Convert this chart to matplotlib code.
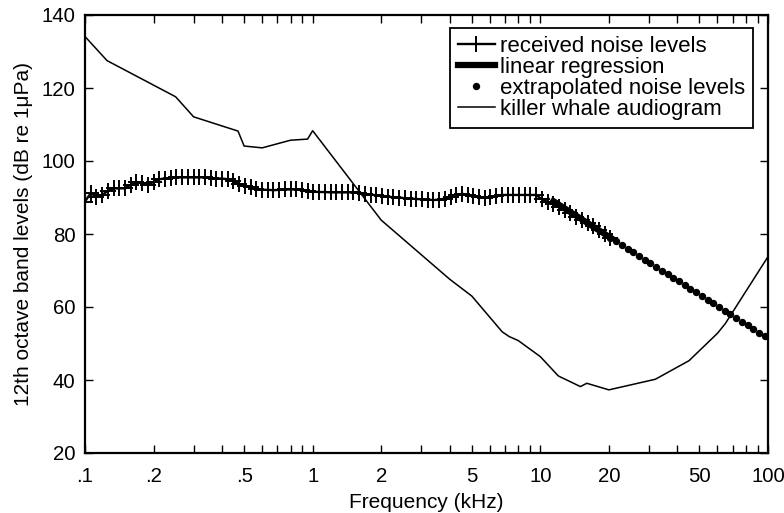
import numpy as np
import matplotlib
matplotlib.use("Agg")
import matplotlib.pyplot as plt
from matplotlib.ticker import FixedLocator, NullFormatter, NullLocator

plt.rcParams['font.family'] = ['Liberation Sans', 'DejaVu Sans']

# 1/12-octave band centres (kHz), starting at 0.1 kHz
BAND0 = 0.1
# received noise levels (dB) for bands 0..92
noise_levels = [
    88.9, 91.2, 90.2, 90.7, 91.8, 92.5, 92.5, 92.5, 93.5, 94.2,
    93.9, 93.4, 94.3, 95.0, 95.2, 95.4, 95.5, 95.5, 95.5, 95.5,
    95.5, 95.5, 95.4, 95.2, 95.2, 95.0, 94.5, 93.6, 93.2, 92.8,
    92.3, 92.1, 92.1, 92.0, 92.1, 92.2, 92.2, 92.2, 92.0, 91.7,
    91.6, 91.5, 91.5, 91.4, 91.4, 91.4, 91.4, 91.4, 91.3, 91.0,
    90.8, 90.6, 90.4, 90.2, 90.1, 90.0, 89.8, 89.7, 89.6, 89.5,
    89.4, 89.3, 89.4, 89.7, 90.2, 90.6, 91.0, 90.8, 90.3, 90.1,
    90.0, 90.1, 90.5, 90.7, 90.7, 90.7, 90.7, 90.7, 90.7, 90.7,
    89.5, 88.8, 88.2, 87.4, 86.5, 85.7, 84.6, 83.7, 82.9, 82.1,
    81.1, 80.0, 79.0,
]
noise_bands = list(range(0, 93))

# linear regression (band index endpoints, dB)
regr_bands = [82, 92]
regr_levels = [89.0, 79.0]

# extrapolated noise levels (bands 92..119)
extrap_bands = list(range(92, 120))
extrap_levels = [79, 78, 77, 76, 75, 74, 73, 72, 71, 70,
                 69, 68, 67, 66, 65, 64, 63, 62, 61, 60,
                 59, 58, 57, 56, 55, 54, 53, 52]

# killer whale audiogram
aud_freq = [0.1, 0.125, 0.25, 0.3, 0.47, 0.5, 0.6, 0.8, 0.95, 1.0,
            2.0, 4.0, 5.0, 6.8, 7.3, 8.0, 10.0, 12.0, 15.0, 16.0,
            20.0, 32.0, 45.0, 60.0, 65.0, 100.0]
aud_level = [134.1, 127.5, 117.6, 112.1, 108.2, 104.1, 103.6, 105.7, 106.0, 108.3,
             83.8, 67.6, 63.0, 53.2, 51.9, 50.8, 46.4, 41.1, 38.2, 39.1,
             37.3, 40.2, 45.3, 52.8, 55.5, 73.8]

xticks = [0.1, 0.2, 0.5, 1, 2, 5, 10, 20, 50, 100]
xticklabels = ['.1', '.2', '.5', '1', '2', '5', '10', '20', '50', '100']
yticks = [20, 40, 60, 80, 100, 120, 140]


def band_freq(bands):
    return [BAND0 * 2 ** (b / 12) for b in bands]


fig = plt.figure(figsize=(7.84, 5.13), dpi=100)
ax = fig.add_axes([85 / 784, 1 - 453 / 513, (768 - 85) / 784, (453 - 15) / 513])

ax.plot(band_freq(noise_bands), noise_levels, '-+', color='k', lw=1.7,
        ms=11, mew=1.4, label='received noise levels')
ax.plot(band_freq(regr_bands), regr_levels, '-', color='k', lw=4.5,
        label='linear regression')
ax.plot(band_freq(extrap_bands), extrap_levels, 'o', color='k', ms=4.3,
        ls='none', label='extrapolated noise levels')
ax.plot(aud_freq, aud_level, '-', color='k', lw=1.1,
        label='killer whale audiogram')

ax.set_xscale('log')
ax.set_xlim(0.1, 100)
ax.set_ylim(20, 140)

minor = []
for dec in [0.1, 1, 10]:
    for m in range(1, 10):
        minor.append(dec * m)
minor.append(100)
ax.xaxis.set_major_locator(FixedLocator(xticks))
ax.xaxis.set_minor_locator(FixedLocator(minor))
ax.xaxis.set_minor_formatter(NullFormatter())
ax.set_xticklabels(xticklabels)
ax.set_yticks(yticks)
ax.yaxis.set_minor_locator(NullLocator())

ax.tick_params(axis='both', which='both', direction='in', top=True, right=True,
               length=6, width=1.0, labelsize=14.7)
ax.tick_params(axis='x', which='both', pad=10)
ax.tick_params(axis='y', which='both', pad=7)

for s in ax.spines.values():
    s.set_linewidth(1.6)

ax.set_xlabel('Frequency (kHz)', fontsize=15, labelpad=5)
ax.set_ylabel('12th octave band levels (dB re 1\u03bcPa)', fontsize=15, labelpad=6)

leg = ax.legend(loc='upper right', bbox_to_anchor=(0.978, 0.970), borderaxespad=0,
                fancybox=False, edgecolor='k', fontsize=16, handlelength=1.65,
                labelspacing=0.0, borderpad=0.35, handletextpad=0.25, numpoints=1,
                framealpha=1)
leg.get_frame().set_linewidth(1.3)

fig.savefig('out.png', dpi=100)
